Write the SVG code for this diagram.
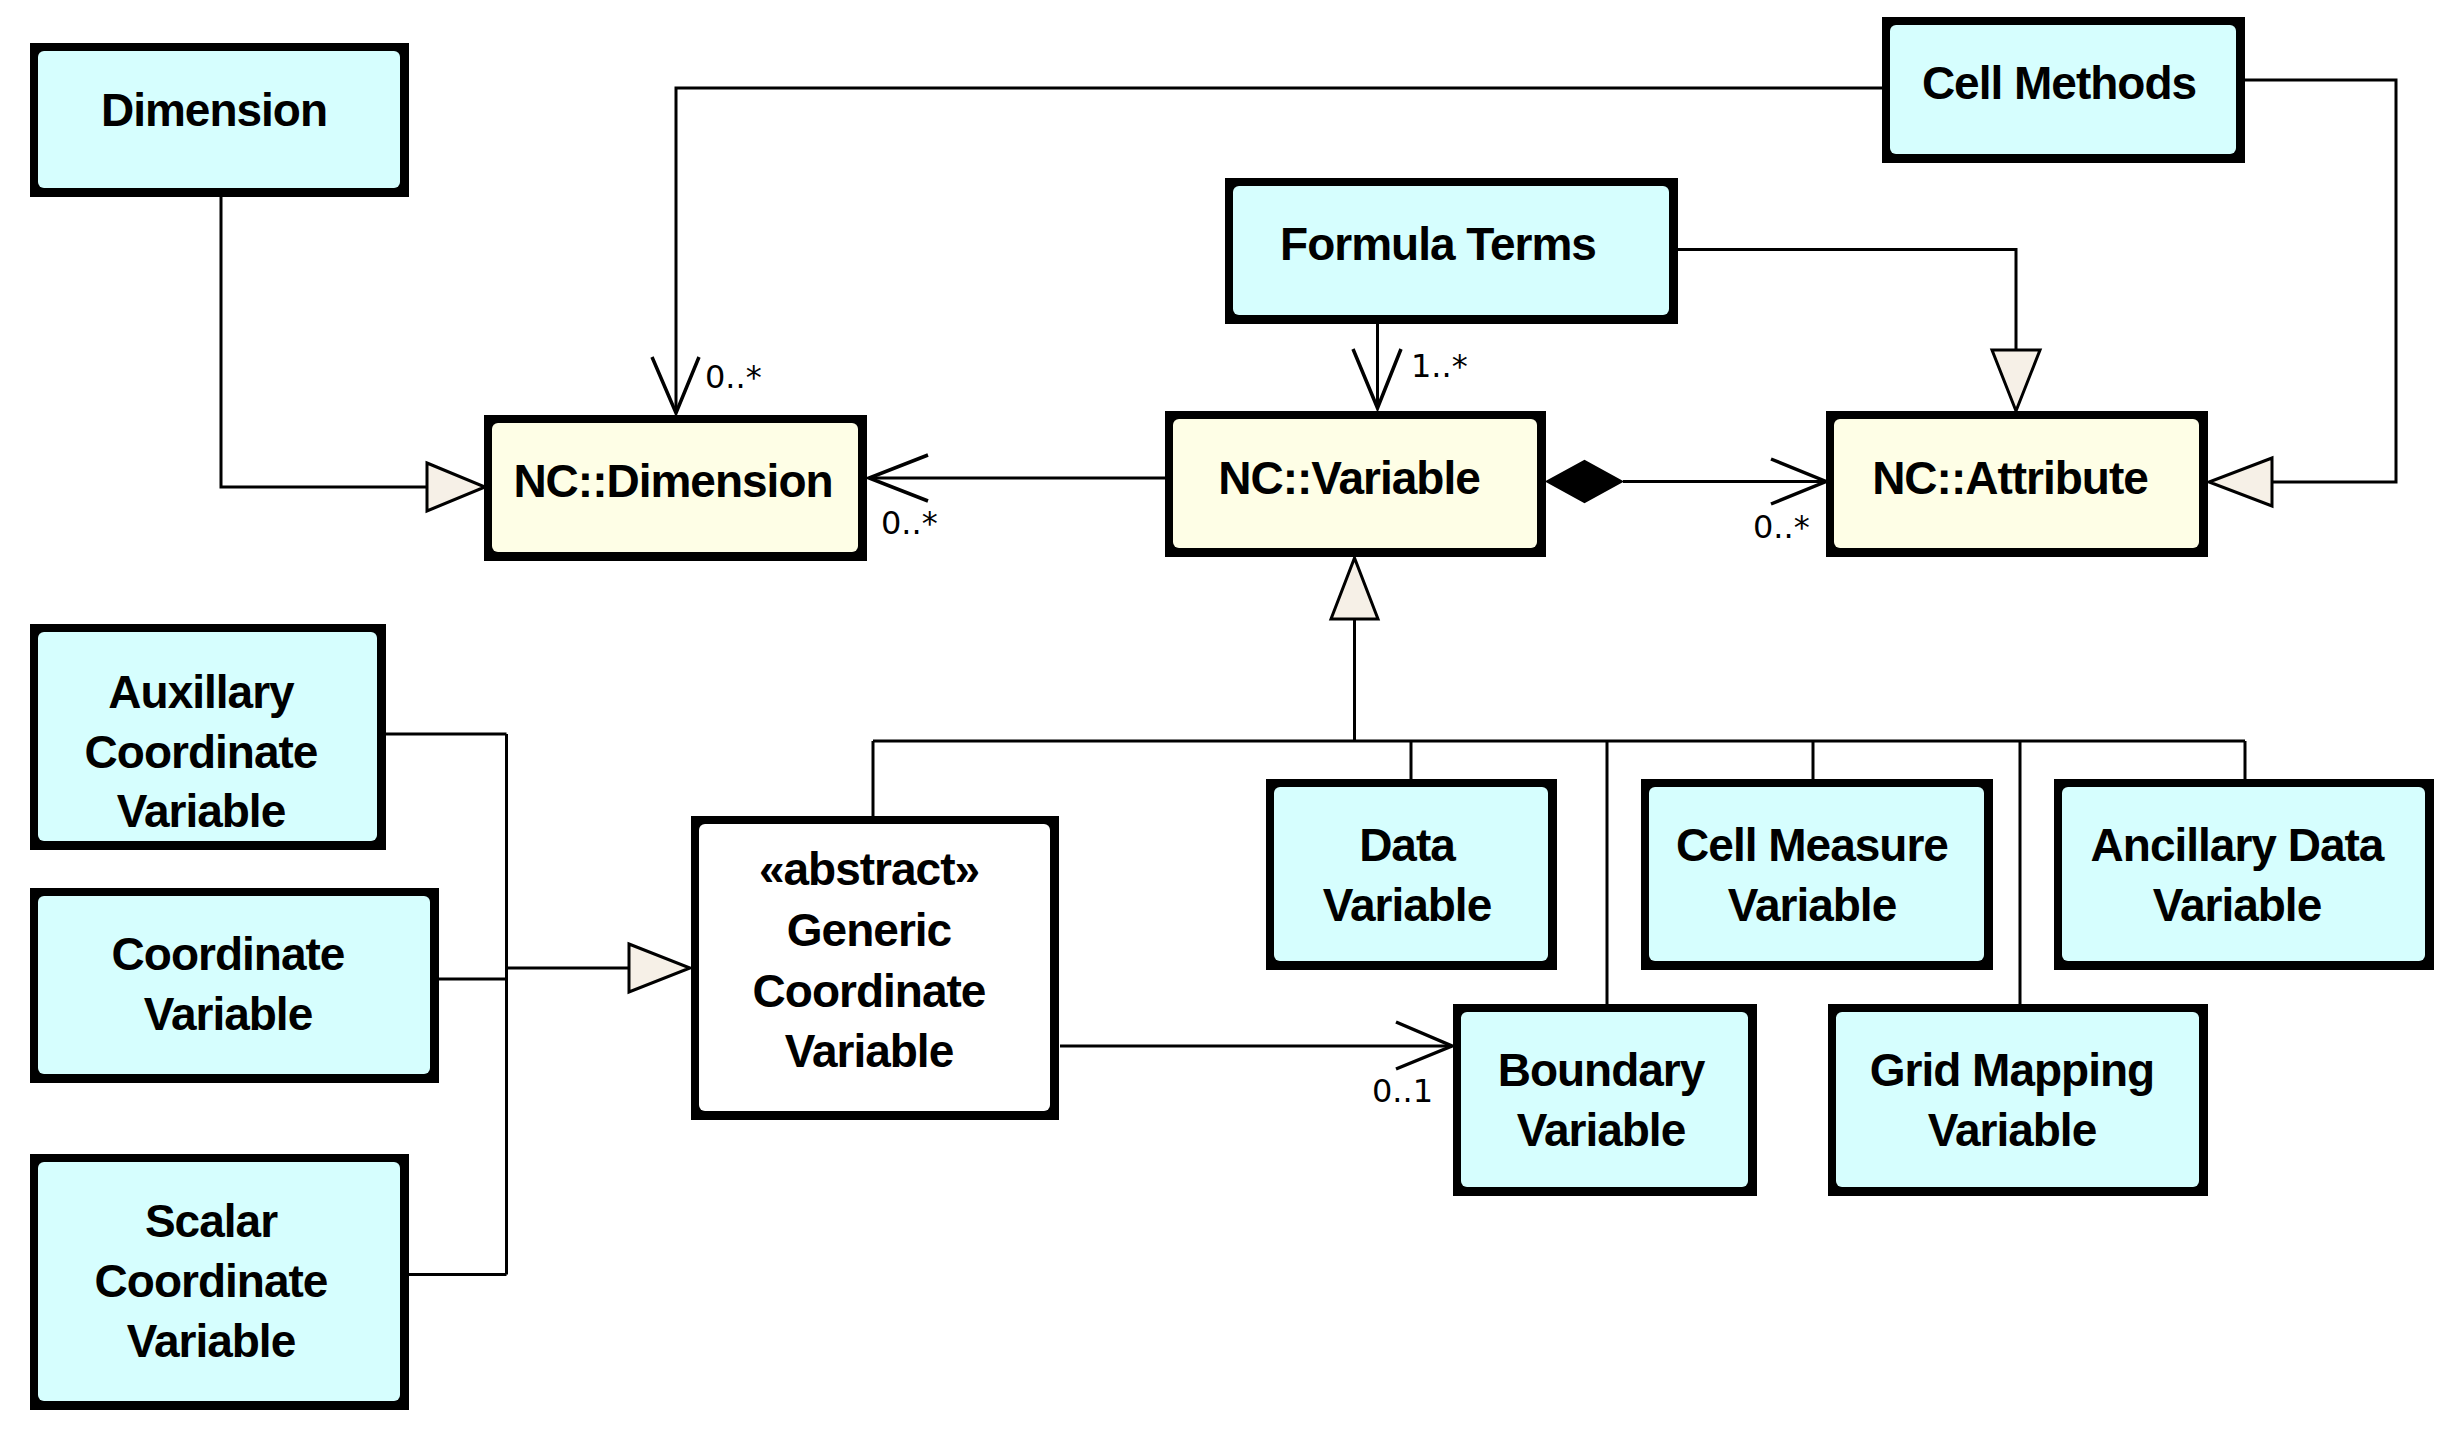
<svg xmlns="http://www.w3.org/2000/svg" width="2452" height="1448" viewBox="0 0 2452 1448">
<style>
.frame{fill:#000}
.cyan{fill:#D6FEFE}
.yel{fill:#FEFEE6}
.wht{fill:#FFFFFF}
.lbl{font-family:"Liberation Sans",Arial,sans-serif;font-weight:bold;font-size:46px;letter-spacing:-1px;text-anchor:middle;fill:#000}
.mult{font-family:"DejaVu Sans",sans-serif;font-size:32px;fill:#000}
.ln{fill:none;stroke:#000;stroke-width:3}
.tri{fill:#F6F0E7;stroke:#000;stroke-width:3;stroke-linejoin:miter}
.arr{fill:none;stroke:#000;stroke-width:3.5}
.dia{fill:#000;stroke:#000;stroke-width:2}
</style>
<rect width="2452" height="1448" fill="#FFFFFF"/>

<g id="connectors">
  <!-- Dimension -> NC::Dimension -->
  <path class="ln" d="M221,197 V487 H427"/>
  <polygon class="tri" points="427,463 485,487 427,511"/>
  <!-- Cell Methods -> NC::Dimension -->
  <path class="ln" d="M1882,88 H676 V413"/>
  <path class="arr" d="M652,357 L676,413 L699,357"/>
  <text class="mult" x="705" y="388">0..*</text>
  <!-- Cell Methods -> NC::Attribute -->
  <path class="ln" d="M2245,80 H2396 V482 H2272"/>
  <polygon class="tri" points="2272,458 2209,482 2272,506"/>
  <!-- Formula Terms -> NC::Attribute -->
  <path class="ln" d="M1678,249.5 H2016 V350"/>
  <polygon class="tri" points="1992,350 2040,350 2016,411"/>
  <!-- Formula Terms -> NC::Variable -->
  <path class="ln" d="M1377.5,324 V408"/>
  <path class="arr" d="M1353,349 L1377.5,408 L1401,349"/>
  <text class="mult" x="1411" y="377">1..*</text>
  <!-- NC::Variable -> NC::Dimension -->
  <path class="ln" d="M1165,478 H869"/>
  <path class="arr" d="M928,455 L869,478 L928,501"/>
  <text class="mult" x="881" y="534">0..*</text>
  <!-- NC::Variable composition NC::Attribute -->
  <path class="ln" d="M1623,481.5 H1826"/>
  <polygon class="dia" points="1547,481.5 1584.5,461 1622,481.5 1584.5,502"/>
  <path class="arr" d="M1771,459 L1826,481.5 L1771,504"/>
  <text class="mult" x="1753" y="538">0..*</text>
  <!-- Generalization tree to NC::Variable -->
  <path class="ln" d="M1354.5,619 V741"/>
  <polygon class="tri" points="1331,619 1354.5,558 1378,619"/>
  <path class="ln" d="M873,741 H2245"/>
  <path class="ln" d="M873,741 V816"/>
  <path class="ln" d="M1411,741 V779"/>
  <path class="ln" d="M1607,741 V1004"/>
  <path class="ln" d="M1813,741 V779"/>
  <path class="ln" d="M2020,741 V1004"/>
  <path class="ln" d="M2245,741 V779"/>
  <!-- Left tree to Generic Coordinate Variable -->
  <path class="ln" d="M386,734 H506.5"/>
  <path class="ln" d="M439,979 H506.5"/>
  <path class="ln" d="M409,1274.5 H506.5"/>
  <path class="ln" d="M506.5,734 V1274.5"/>
  <path class="ln" d="M506.5,968 H629"/>
  <polygon class="tri" points="629,944 690,968 629,992"/>
  <!-- Generic -> Boundary -->
  <path class="ln" d="M1060,1046 H1452"/>
  <path class="arr" d="M1396,1022 L1452,1046 L1396,1069"/>
  <text class="mult" x="1372" y="1102">0..1</text>
</g>

<g id="dimension">
  <rect class="frame" x="30" y="43" width="379" height="154"/>
  <rect class="cyan" x="38" y="51" width="362" height="137" rx="6"/>
  <text class="lbl" x="214" y="126">Dimension</text>
</g>

<g id="cell-methods">
  <rect class="frame" x="1882" y="17" width="363" height="146"/>
  <rect class="cyan" x="1890" y="25" width="346" height="129" rx="6"/>
  <text class="lbl" x="2059" y="99">Cell Methods</text>
</g>

<g id="formula-terms">
  <rect class="frame" x="1225" y="178" width="453" height="146"/>
  <rect class="cyan" x="1233" y="186" width="436" height="129" rx="6"/>
  <text class="lbl" x="1438" y="260">Formula Terms</text>
</g>

<g id="nc-dimension">
  <rect class="frame" x="484" y="415" width="383" height="146"/>
  <rect class="yel" x="492" y="423" width="366" height="129" rx="6"/>
  <text class="lbl" x="673" y="497">NC::Dimension</text>
</g>

<g id="nc-variable">
  <rect class="frame" x="1165" y="411" width="381" height="146"/>
  <rect class="yel" x="1173" y="419" width="364" height="129" rx="6"/>
  <text class="lbl" x="1349" y="494">NC::Variable</text>
</g>

<g id="nc-attribute">
  <rect class="frame" x="1826" y="411" width="382" height="146"/>
  <rect class="yel" x="1834" y="419" width="365" height="129" rx="6"/>
  <text class="lbl" x="2010" y="494">NC::Attribute</text>
</g>

<g id="auxillary-coordinate-variable">
  <rect class="frame" x="30" y="624" width="356" height="226"/>
  <rect class="cyan" x="38" y="632" width="339" height="209" rx="6"/>
  <text class="lbl" x="201" y="708">Auxillary</text>
  <text class="lbl" x="201" y="768">Coordinate</text>
  <text class="lbl" x="201" y="827">Variable</text>
</g>

<g id="coordinate-variable">
  <rect class="frame" x="30" y="888" width="409" height="195"/>
  <rect class="cyan" x="38" y="896" width="392" height="178" rx="6"/>
  <text class="lbl" x="228" y="970">Coordinate</text>
  <text class="lbl" x="228" y="1030">Variable</text>
</g>

<g id="scalar-coordinate-variable">
  <rect class="frame" x="30" y="1154" width="379" height="256"/>
  <rect class="cyan" x="38" y="1162" width="362" height="239" rx="6"/>
  <text class="lbl" x="211" y="1237">Scalar</text>
  <text class="lbl" x="211" y="1297">Coordinate</text>
  <text class="lbl" x="211" y="1357">Variable</text>
</g>

<g id="generic-coordinate-variable">
  <rect class="frame" x="691" y="816" width="368" height="304"/>
  <rect class="wht" x="699" y="824" width="351" height="287" rx="6"/>
  <text class="lbl" x="869" y="885">«abstract»</text>
  <text class="lbl" x="869" y="946">Generic</text>
  <text class="lbl" x="869" y="1007">Coordinate</text>
  <text class="lbl" x="869" y="1067">Variable</text>
</g>

<g id="data-variable">
  <rect class="frame" x="1266" y="779" width="291" height="191"/>
  <rect class="cyan" x="1274" y="787" width="274" height="174" rx="6"/>
  <text class="lbl" x="1407" y="861">Data</text>
  <text class="lbl" x="1407" y="921">Variable</text>
</g>

<g id="cell-measure-variable">
  <rect class="frame" x="1641" y="779" width="352" height="191"/>
  <rect class="cyan" x="1649" y="787" width="335" height="174" rx="6"/>
  <text class="lbl" x="1812" y="861">Cell Measure</text>
  <text class="lbl" x="1812" y="921">Variable</text>
</g>

<g id="ancillary-data-variable">
  <rect class="frame" x="2054" y="779" width="380" height="191"/>
  <rect class="cyan" x="2062" y="787" width="363" height="174" rx="6"/>
  <text class="lbl" x="2237" y="861">Ancillary Data</text>
  <text class="lbl" x="2237" y="921">Variable</text>
</g>

<g id="boundary-variable">
  <rect class="frame" x="1453" y="1004" width="304" height="192"/>
  <rect class="cyan" x="1461" y="1012" width="287" height="175" rx="6"/>
  <text class="lbl" x="1601" y="1086">Boundary</text>
  <text class="lbl" x="1601" y="1146">Variable</text>
</g>

<g id="grid-mapping-variable">
  <rect class="frame" x="1828" y="1004" width="380" height="192"/>
  <rect class="cyan" x="1836" y="1012" width="363" height="175" rx="6"/>
  <text class="lbl" x="2012" y="1086">Grid Mapping</text>
  <text class="lbl" x="2012" y="1146">Variable</text>
</g>
</svg>
